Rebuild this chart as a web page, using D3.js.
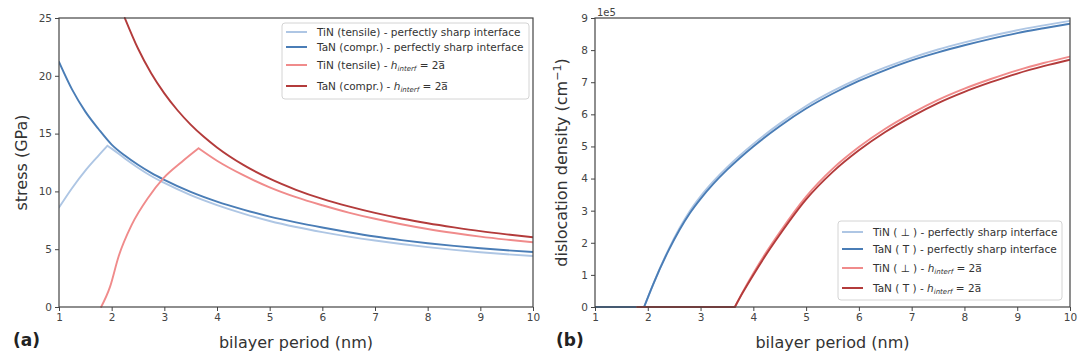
<!DOCTYPE html>
<html><head><meta charset="utf-8">
<script src="https://cdn.jsdelivr.net/npm/d3@7"></script>
<style>
html,body{margin:0;padding:0;background:#fff;}
svg{display:block;font-family:"DejaVu Sans",sans-serif;}
</style></head>
<body>
<svg id="chart" width="1080" height="360"></svg>
<script>
// ---------- DATA ----------
// Panel (a): stress (GPa) vs bilayer period (nm)
const tinSharpStressX = [1,1.25,1.5,1.75,1.92,2,2.25,2.5,2.75,3,3.5,4,4.5,5,5.5,6,6.5,7,7.5,8,8.5,9,9.5,10];
const tinSharpStressY = [8.6,10.3,11.8,13.1,13.95,13.7,12.85,12.05,11.33,10.73,9.68,8.82,8.08,7.44,6.92,6.48,6.09,5.75,5.45,5.18,4.94,4.74,4.56,4.41];
const tanSharpStressX = [1,1.25,1.5,1.75,2,2.25,2.5,2.75,3,3.5,4,4.5,5,5.5,6,6.5,7,7.5,8,8.5,9,9.5,10];
const tanSharpStressY = [21.2,18.8,16.9,15.4,14.05,13.1,12.3,11.6,11.0,9.96,9.12,8.43,7.82,7.32,6.88,6.47,6.1,5.79,5.52,5.29,5.08,4.91,4.76];
const tinInterfStressX = [1.8,1.97,2.13,2.38,2.7,2.98,3.33,3.65,4,4.5,5,5.5,6,6.5,7,7.5,8,8.5,9,9.5,10];
const tinInterfStressY = [0,1.76,4.35,7.1,9.5,11.13,12.55,13.73,12.65,11.4,10.35,9.5,8.8,8.17,7.63,7.16,6.75,6.4,6.09,5.83,5.6];
const tanInterfStressX = [2.25,2.5,2.75,3,3.25,3.5,3.75,4,4.5,5,5.5,6,6.5,7,7.5,8,8.5,9,9.5,10];
const tanInterfStressY = [25,22.36,20.22,18.48,17.02,15.78,14.72,13.8,12.29,11.1,10.14,9.35,8.7,8.14,7.66,7.25,6.89,6.56,6.28,6.03];

// Panel (b): dislocation density (1e5 cm^-1) vs bilayer period (nm)
const sharpRhoX = [1,1.93,2.1,2.39,2.6,2.8,3,3.25,3.5,3.75,4,4.5,5,5.5,6,6.5,7,7.5,8,8.5,9,9.5,10];
const tinSharpRhoY = [0,0,0.7,1.78,2.45,3.0,3.45,3.93,4.35,4.73,5.08,5.71,6.26,6.72,7.12,7.46,7.76,8.02,8.24,8.44,8.62,8.77,8.91];
const tanSharpRhoY = [0,0,0.7,1.75,2.4,2.93,3.37,3.85,4.27,4.65,5.0,5.63,6.18,6.64,7.04,7.38,7.68,7.93,8.15,8.35,8.53,8.68,8.82];
const interfRhoX = [1.8,3.65,3.8,4,4.25,4.5,5,5.5,6,6.5,7,7.5,8,8.5,9,9.5,10];
const tinInterfRhoY = [0,0,0.47,1.05,1.72,2.33,3.44,4.3,4.98,5.55,6.03,6.45,6.8,7.1,7.37,7.6,7.8];
const tanInterfRhoY = [0,0,0.45,1.0,1.65,2.25,3.35,4.2,4.88,5.45,5.93,6.35,6.7,7.0,7.27,7.5,7.7];

// Ticks and labels
const xTicks = [1,2,3,4,5,6,7,8,9,10];
const stressTicks = [0,5,10,15,20,25];
const rhoTicks = [0,1,2,3,4,5,6,7,8,9];
const legendA = ["TiN (tensile) - perfectly sharp interface","TaN (compr.) - perfectly sharp interface","TiN (tensile) - ","TaN (compr.) - "];
const legendB = ["TiN ( \u22A5 ) - perfectly sharp interface","TaN ( T ) - perfectly sharp interface","TiN ( \u22A5 ) - ","TaN ( T ) - "];
const legendMath = [false,false,true,true];
const seriesColors = ["#aec6e4","#4a7db6","#f08b8b","#b33b3b"];

// ---------- DRAW ----------
const svg = d3.select("#chart");

// split a series at kinks (change of slope sign) so each piece is smooth but corners stay sharp
function pieces(pts){
  const out = []; let start = 0;
  const sgn = v => Math.abs(v) < 1e-9 ? 0 : Math.sign(v);
  for(let i=1;i<pts.length-1;i++){
    const a = sgn(pts[i][1]-pts[i-1][1]), b = sgn(pts[i+1][1]-pts[i][1]);
    if(a !== b){ out.push(pts.slice(start,i+1)); start = i; }
  }
  out.push(pts.slice(start));
  return out;
}

function panel(opt){
  const g = svg.append("g");
  const x = d3.scaleLinear().domain([1,10]).range([opt.left,opt.right]);
  const y = d3.scaleLinear().domain(opt.yDomain).range([opt.bottom,opt.top]);
  const clipId = "clip"+opt.id;
  svg.append("clipPath").attr("id",clipId).append("rect")
    .attr("x",opt.left).attr("y",opt.top-1).attr("width",opt.right-opt.left).attr("height",opt.bottom-opt.top+2);

  const line = d3.line().x(d=>x(d[0])).y(d=>y(d[1])).curve(d3.curveMonotoneX);
  const lg = g.append("g").attr("clip-path",`url(#${clipId})`);
  opt.series.forEach((s,i)=>{
    const pts = s.x.map((v,k)=>[v,s.y[k]]);
    const d = pieces(pts).map(p=>line(p)).join("");
    lg.append("path").attr("d",d).attr("fill","none")
      .attr("stroke",seriesColors[i]).attr("stroke-width",1.9)
      .attr("stroke-linejoin","round").attr("stroke-linecap","round");
  });

  // axes
  const xa = g.append("g").attr("transform",`translate(0,${opt.bottom})`)
    .call(d3.axisBottom(x).tickValues(xTicks).tickFormat(d3.format("d")).tickSize(4).tickSizeOuter(0).tickPadding(3));
  const ya = g.append("g").attr("transform",`translate(${opt.left},0)`)
    .call(d3.axisLeft(y).tickValues(opt.yTicks).tickFormat(d3.format("d")).tickSize(4).tickSizeOuter(0).tickPadding(3));
  [xa,ya].forEach(a=>{
    a.select(".domain").remove();
    a.selectAll("line").attr("stroke","#444");
    a.selectAll("text").attr("fill","#444").style("font-size","10.5px").style("font-family","DejaVu Sans");
  });
  g.append("rect").attr("x",opt.left).attr("y",opt.top).attr("width",opt.right-opt.left).attr("height",opt.bottom-opt.top)
    .attr("fill","none").attr("stroke","#444").attr("stroke-width",1.2);

  // labels
  g.append("text").attr("x",(opt.left+opt.right)/2).attr("y",348).attr("text-anchor","middle")
    .style("font-size","16px").attr("fill","#333").text("bilayer period (nm)");
  const yl = g.append("text").attr("transform",`translate(${opt.yLabelX},${(opt.top+opt.bottom)/2}) rotate(-90)`)
    .attr("text-anchor","middle").style("font-size","16px").attr("fill","#333");
  opt.yLabel(yl);
  g.append("text").attr("x",opt.tagX).attr("y",346).style("font-size","17px").style("font-weight","bold")
    .attr("fill","#222").text(opt.tag);
  if(opt.offsetText){
    g.append("text").attr("x",opt.left+2).attr("y",16).style("font-size","10px").attr("fill","#444").text(opt.offsetText);
  }

  // legend
  const L = opt.legend;
  const lgd = g.append("g");
  lgd.append("rect").attr("x",L.x).attr("y",L.y).attr("width",L.w).attr("height",L.h).attr("rx",3)
    .attr("fill","#fff").attr("fill-opacity",0.85).attr("stroke","#d4d4d4");
  L.rows.forEach((ry,i)=>{
    lgd.append("line").attr("x1",L.x+4).attr("x2",L.x+25).attr("y1",ry).attr("y2",ry)
      .attr("stroke",seriesColors[i]).attr("stroke-width",2);
    const t = lgd.append("text").attr("x",L.x+35).attr("y",ry+3.7).style("font-size","10.5px").attr("fill","#333");
    t.append("tspan").text(L.labels[i]);
    if(legendMath[i]){
      t.append("tspan").style("font-style","italic").text("h");
      t.append("tspan").style("font-style","italic").style("font-size","7px").attr("dy",2).text("interf");
      t.append("tspan").attr("dy",-2).text(" = 2a\u0305");
    }
  });
}

panel({
  id:"a", left:59, right:533, top:18, bottom:307, yDomain:[0,25], yTicks:stressTicks,
  series:[
    {x:tinSharpStressX,y:tinSharpStressY},
    {x:tanSharpStressX,y:tanSharpStressY},
    {x:tinInterfStressX,y:tinInterfStressY},
    {x:tanInterfStressX,y:tanInterfStressY}],
  yLabelX:27, yLabel:t=>t.text("stress (GPa)"), tag:"(a)", tagX:13,
  legend:{x:282,y:23,w:247,h:76,rows:[32,47,65,86],labels:legendA}
});

panel({
  id:"b", left:595, right:1070, top:18, bottom:307, yDomain:[0,9], yTicks:rhoTicks,
  series:[
    {x:sharpRhoX,y:tinSharpRhoY},
    {x:sharpRhoX,y:tanSharpRhoY},
    {x:interfRhoX,y:tinInterfRhoY},
    {x:interfRhoX,y:tanInterfRhoY}],
  yLabelX:567, yLabel:t=>{t.append("tspan").text("dislocation density (cm");
    t.append("tspan").attr("dy",-6).style("font-size","11px").text("\u22121");
    t.append("tspan").attr("dy",6).text(")");},
  tag:"(b)", tagX:556, offsetText:"1e5",
  legend:{x:838,y:221,w:224,h:79,rows:[232,249,268,288],labels:legendB}
});
</script>
</body></html>
